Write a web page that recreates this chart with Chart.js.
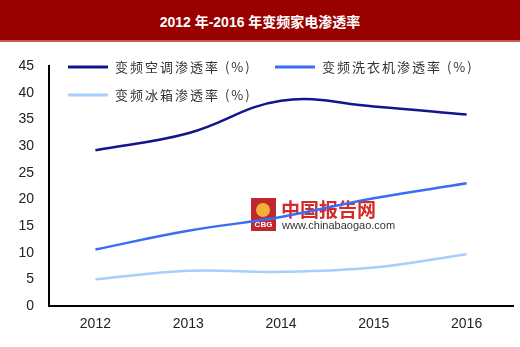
<!DOCTYPE html>
<html>
<head>
<meta charset="utf-8">
<script src="https://cdn.jsdelivr.net/npm/chart.js@4.4.1/dist/chart.umd.min.js"></script>
<style>
    html, body { margin: 0; padding: 0; background: #fff; }
    #wrap { width: 520px; height: 347px; position: relative; overflow: hidden; }
    #title {
        height: 40px; background: #990000; color: #fff;
        text-align: center; font: bold 14px "Liberation Sans", "Noto Sans CJK SC", sans-serif;
        line-height: 44px;
        border-bottom: 2px solid #c85a5a;
    }
    #box { width: 520px; height: 305px; }
</style>
</head>
<body>
<div id="wrap">
    <div id="title">2012 年-2016 年变频家电渗透率</div>
    <div id="box"><canvas id="penChart" width="520" height="305"></canvas></div>
</div>
<script>
// data
const years = ['2012', '2013', '2014', '2015', '2016'];
const seriesNames = ['变频空调渗透率 (%)', '变频洗衣机渗透率 (%)', '变频冰箱渗透率 (%)'];
const acRate = [29.2, 32.4, 38.5, 37.4, 35.9];
const washerRate = [10.6, 14.1, 16.7, 20.2, 23.0];
const fridgeRate = [5.0, 6.6, 6.4, 7.2, 9.7];
const yTicks = [0, 5, 10, 15, 20, 25, 30, 35, 40, 45];

const colors = ['#14148c', '#3a6cf4', '#a6cffb'];

// legend slots laid out like the original (two rows)
const legendSlots = [
    { x: 68, y: 25 },
    { x: 275, y: 25 },
    { x: 68, y: 53 },
];

const legendPlugin = {
    id: 'slotLegend',
    afterDraw(chart) {
        const ctx = chart.ctx;
        ctx.save();
        chart.data.datasets.forEach((ds, i) => {
            const s = legendSlots[i];
            ctx.strokeStyle = ds.borderColor;
            ctx.lineWidth = 3;
            ctx.beginPath();
            ctx.moveTo(s.x, s.y);
            ctx.lineTo(s.x + 40, s.y);
            ctx.stroke();
            ctx.fillStyle = '#333';
            ctx.font = '13px "Noto Sans CJK SC", sans-serif';
            ctx.letterSpacing = '2px';
            ctx.textBaseline = 'middle';
            ctx.fillText(ds.label, s.x + 47, s.y);
        });
        ctx.restore();
    },
};

const watermarkPlugin = {
    id: 'watermark',
    beforeDatasetsDraw(chart) {
        const ctx = chart.ctx;
        ctx.save();
        ctx.fillStyle = '#c0282d';
        ctx.fillRect(251, 156, 25, 33);
        ctx.fillStyle = '#f2b03a';
        ctx.beginPath();
        ctx.arc(263, 168, 7, 0, Math.PI * 2);
        ctx.fill();
        ctx.fillStyle = '#fff';
        ctx.font = 'bold 8px "Liberation Sans", sans-serif';
        ctx.textAlign = 'center';
        ctx.fillText('CBG', 263.5, 185);
        ctx.textAlign = 'left';
        ctx.fillStyle = '#d42a2a';
        ctx.font = 'bold 19px "Noto Sans CJK SC", sans-serif';
        ctx.textBaseline = 'middle';
        ctx.fillText('中国报告网', 281, 168);
        ctx.fillStyle = '#333';
        ctx.font = '11px "Liberation Sans", sans-serif';
        ctx.fillText('www.chinabaogao.com', 282, 184);
        ctx.restore();
    },
};

const makeSet = (label, data, color) => ({
    label: label,
    data: data,
    borderColor: color,
    backgroundColor: color,
    borderWidth: 2.5,
    pointRadius: 0,
    tension: 0.4,
    fill: false,
});

new Chart(document.getElementById('penChart').getContext('2d'), {
    type: 'line',
    data: {
        labels: years,
        datasets: [
            makeSet(seriesNames[0], acRate, colors[0]),
            makeSet(seriesNames[1], washerRate, colors[1]),
            makeSet(seriesNames[2], fridgeRate, colors[2]),
        ],
    },
    options: {
        responsive: false,
        animation: false,
        layout: { padding: { top: 24, right: 7, left: 0, bottom: 0 } },
        plugins: { legend: { display: false }, tooltip: { enabled: false } },
        scales: {
            x: {
                offset: true,
                grid: { display: false, drawTicks: false },
                border: { display: true, color: '#000', width: 2 },
                ticks: { color: '#222', font: { size: 14, family: '"Liberation Sans", sans-serif' }, padding: 10 },
                afterFit: (s) => { s.height = 41; },
            },
            y: {
                min: 0,
                max: 45,
                afterBuildTicks: (s) => { s.ticks = yTicks.map((v) => ({ value: v })); },
                grid: { display: false, drawTicks: false },
                border: { display: true, color: '#000', width: 2 },
                ticks: { color: '#222', font: { size: 14, family: '"Liberation Sans", sans-serif' }, padding: 15 },
                afterFit: (s) => { s.width = 49; },
            },
        },
    },
    plugins: [watermarkPlugin, legendPlugin],
});
</script>
</body>
</html>
